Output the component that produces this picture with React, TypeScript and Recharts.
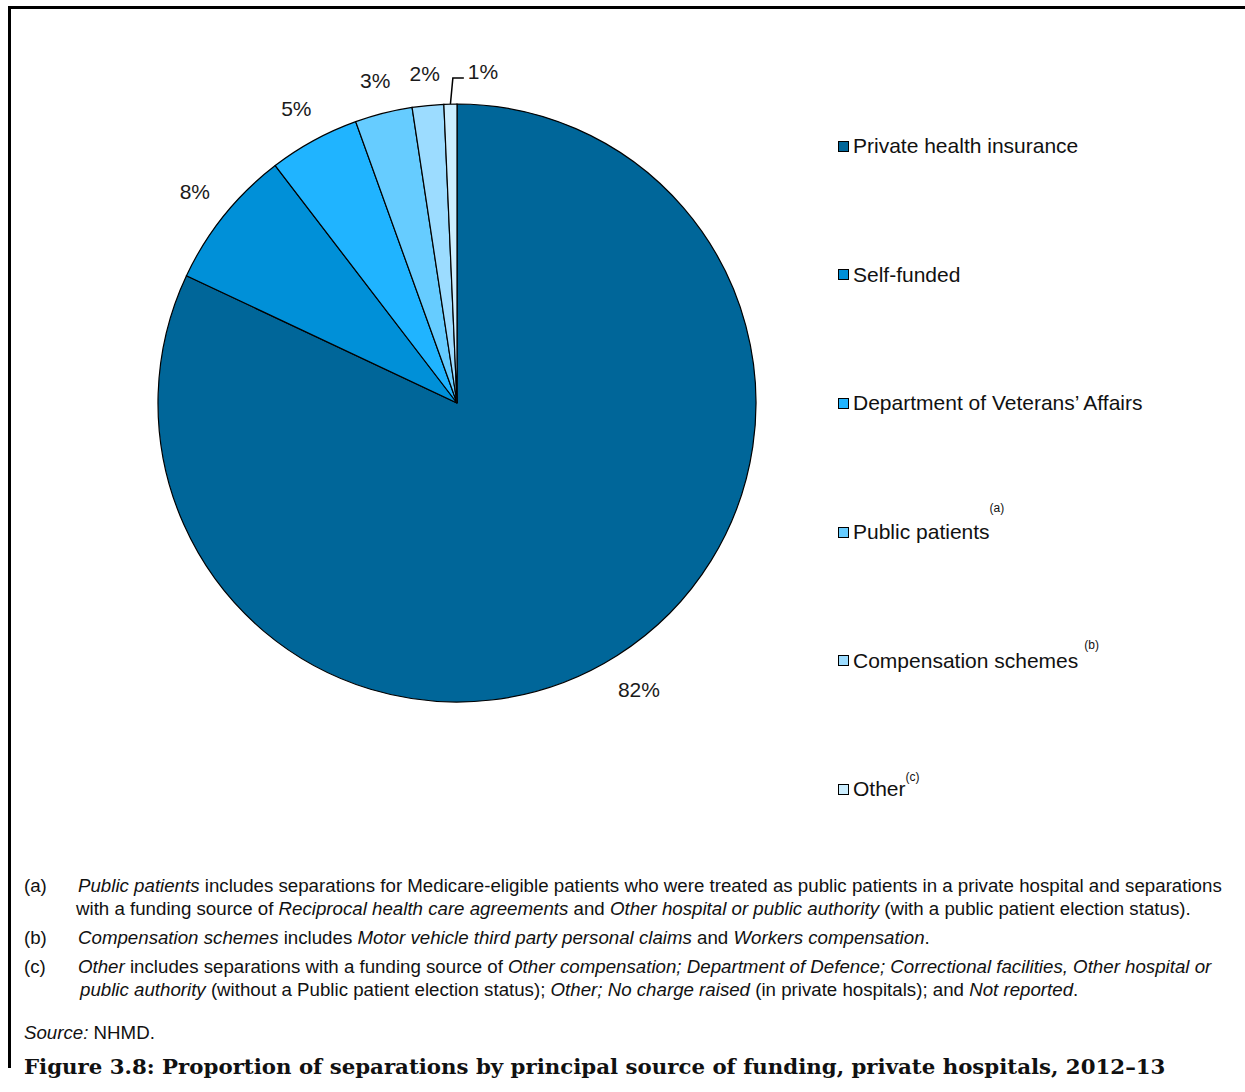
import { PieChart, Pie, Cell } from 'recharts';

const sources = [
  'Private health insurance',
  'Self-funded',
  'Department of Veterans\u2019 Affairs',
  'Public patients',
  'Compensation schemes',
  'Other',
];
const shares = [82.0, 7.6, 4.9, 3.1, 1.7, 0.7];
const noteMarks = ['', '', '', '(a)', '(b)', '(c)'];
const colors = ['#006699', '#0090d8', '#20b4ff', '#66ccff', '#9cdcff', '#cceeff'];

const footnotes = [
  {
    tag: '(a)',
    lines: [
      [<i key="1">Public patients</i>, ' includes separations for Medicare-eligible patients who were treated as public patients in a private hospital and separations'],
      ['with a funding source of ', <i key="2">Reciprocal health care agreements</i>, ' and ', <i key="3">Other hospital or public authority</i>, ' (with a public patient election status).'],
    ],
  },
  {
    tag: '(b)',
    lines: [
      [<i key="1">Compensation schemes</i>, ' includes ', <i key="2">Motor vehicle third party personal claims</i>, ' and ', <i key="3">Workers compensation</i>, '.'],
    ],
  },
  {
    tag: '(c)',
    lines: [
      [<i key="1">Other</i>, ' includes separations with a funding source of ', <i key="2">Other compensation; Department of Defence; Correctional facilities, Other hospital or</i>],
      [<i key="3">public authority</i>, ' (without a Public patient election status); ', <i key="4">Other; No charge raised</i>, ' (in private hospitals); and ', <i key="5">Not reported</i>, '.'],
    ],
  },
];

const data = sources.map((name, i) => ({ name, value: shares[i] }));
const RADIAN = Math.PI / 180;
const FONT = '"Liberation Sans", Arial, sans-serif';

function renderLabel(props: any) {
  const { cx, cy, midAngle, outerRadius, percent, index } = props;
  const text = `${Math.round(percent * 100)}%`;
  const cos = Math.cos(-midAngle * RADIAN);
  const sin = Math.sin(-midAngle * RADIAN);
  if (index === sources.length - 1) {
    const x0 = cx + outerRadius * cos;
    const y0 = cy + outerRadius * sin;
    const x1 = cx + (outerRadius + 26) * cos + 3;
    const y1 = cy + (outerRadius + 26) * sin;
    return (
      <g key={`l${index}`}>
        <polyline points={`${x0},${y0} ${x1},${y1} ${x1 + 11},${y1}`} fill="none" stroke="#000" strokeWidth={1.5} />
        <text x={x1 + 15} y={y1 - 7} fontSize={21} fontFamily={FONT} fill="#1a1a1a" dominantBaseline="central">{text}</text>
      </g>
    );
  }
  // label box sits a fixed gap outside the rim, like the spreadsheet layout
  const halfW = text.length * 7;
  const r = outerRadius + 20 + Math.abs(cos) * halfW + Math.abs(sin) * 11;
  return (
    <text key={`l${index}`} x={cx + r * cos} y={cy + r * sin} fontSize={21} fontFamily={FONT} fill="#1a1a1a" textAnchor="middle" dominantBaseline="central">
      {text}
    </text>
  );
}

const supTop = [0, 0, 0, -24, -16, -12];
const supGap = [0, 0, 0, 0, 6, 0];

function FundingLegend() {
  return (
    <div style={{ position: 'absolute', left: 838, top: 82, fontFamily: FONT, fontSize: 21, color: '#111' }}>
      {sources.map((name, i) => (
        <div key={name} style={{ height: 128.6, display: 'flex', alignItems: 'center' }}>
          <span style={{ width: 9, height: 9, background: colors[i], border: '1px solid #000', marginRight: 4, display: 'inline-block' }} />
          <span>{name}</span>
          {noteMarks[i] && (
            <span style={{ fontSize: 12, position: 'relative', top: supTop[i], marginLeft: supGap[i] }}>{noteMarks[i]}</span>
          )}
        </div>
      ))}
    </div>
  );
}

export default function App() {
  return (
    <div style={{ position: 'absolute', left: 0, top: 0, width: 1245, height: 1092, background: '#fff', overflow: 'hidden' }}>
      <div style={{ position: 'absolute', left: 8, top: 6, width: 1260, height: 1059, borderTop: '3px solid #000', borderLeft: '3px solid #000' }} />
      <div style={{ position: 'absolute', left: 0, top: 0 }}>
        <PieChart width={800} height={860} margin={{ top: 0, right: 0, bottom: 0, left: 0 }}>
          <Pie
            data={data}
            dataKey="value"
            nameKey="name"
            cx={457}
            cy={403}
            outerRadius={299}
            startAngle={90}
            endAngle={-270}
            stroke="#000"
            strokeWidth={1.2}
            label={renderLabel}
            labelLine={false}
            isAnimationActive={false}
          >
            {data.map((d, i) => (
              <Cell key={d.name} fill={colors[i]} />
            ))}
          </Pie>
        </PieChart>
      </div>
      <FundingLegend />
      <div style={{ position: 'absolute', left: 24, top: 874, width: 1221, fontFamily: FONT, fontSize: 18.7, color: '#111' }}>
        {footnotes.map((f) => (
          <div key={f.tag} style={{ marginBottom: 6 }}>
            {f.lines.map((line, j) => (
              <div key={j} style={{ display: 'flex', height: 23, lineHeight: '23px' }}>
                <span style={{ width: j === 0 ? 54 : f.tag === '(c)' ? 56 : 52, flexShrink: 0, display: 'inline-block' }}>{j === 0 ? f.tag : ''}</span>
                <span style={{ whiteSpace: 'pre' }}>{line}</span>
              </div>
            ))}
          </div>
        ))}
        <div style={{ marginTop: 20, height: 23, lineHeight: '23px' }}>
          <i>Source:</i> NHMD.
        </div>
      </div>
      <div style={{ position: 'absolute', left: 24, top: 1054, fontFamily: '"DejaVu Serif", serif', fontWeight: 'bold', fontSize: 21.3, color: '#111', whiteSpace: 'nowrap' }}>
        Figure 3.8: Proportion of separations by principal source of funding, private hospitals, 2012–13
      </div>
    </div>
  );
}
